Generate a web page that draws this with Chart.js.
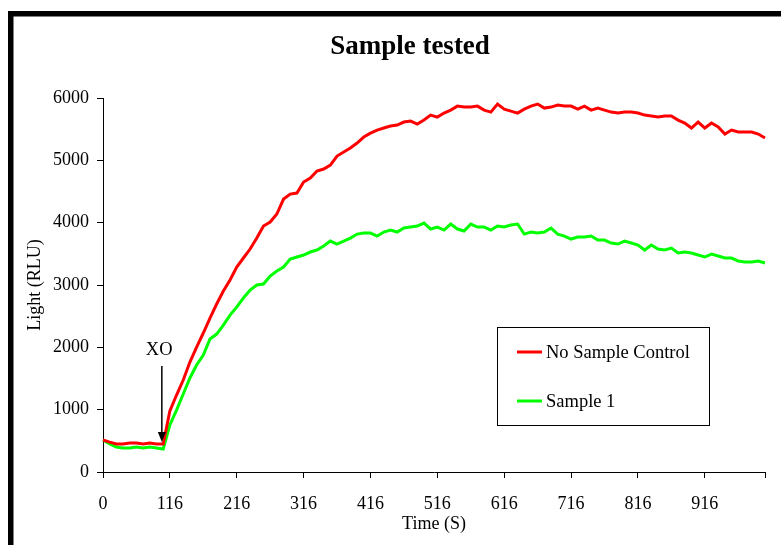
<!DOCTYPE html>
<html>
<head>
<meta charset="utf-8">
<script src="https://cdn.jsdelivr.net/npm/chart.js@4"></script>
<style>
  body { margin: 0; background: #fff; }
  #wrap { width: 781px; height: 545px; position: relative; }
</style>
</head>
<body>
<div id="wrap"><canvas id="chart"></canvas></div>
<script>
const times = [
  0, 26, 36, 46, 56, 66, 76, 86, 96, 106,
  116, 126, 136, 146, 156, 166, 176, 186, 196, 206,
  216, 226, 236, 246, 256, 266, 276, 286, 296, 306,
  316, 326, 336, 346, 356, 366, 376, 386, 396, 406,
  416, 426, 436, 446, 456, 466, 476, 486, 496, 506,
  516, 526, 536, 546, 556, 566, 576, 586, 596, 606,
  616, 626, 636, 646, 656, 666, 676, 686, 696, 706,
  716, 726, 736, 746, 756, 766, 776, 786, 796, 806,
  816, 826, 836, 846, 856, 866, 876, 886, 896, 906,
  916, 926, 936, 946, 956, 966, 976, 986, 996, 1006
];

const noSampleControl = [
  513, 480, 450, 450, 465, 465, 450, 465, 450, 450,
  978, 1235, 1476, 1764, 2005, 2230, 2470, 2695, 2903, 3080,
  3288, 3433, 3577, 3753, 3946, 4010, 4138, 4379, 4459, 4475,
  4652, 4716, 4828, 4860, 4924, 5069, 5133, 5197, 5277, 5373,
  5437, 5486, 5518, 5550, 5566, 5614, 5630, 5582, 5646, 5726,
  5694, 5758, 5806, 5870, 5854, 5854, 5870, 5806, 5774, 5903,
  5822, 5790, 5758, 5822, 5870, 5903, 5838, 5854, 5886, 5870,
  5870, 5822, 5870, 5806, 5838, 5806, 5774, 5758, 5774, 5774,
  5758, 5726, 5710, 5694, 5710, 5710, 5646, 5598, 5518, 5614,
  5518, 5598, 5534, 5422, 5486, 5454, 5454, 5454, 5422, 5357
];

const sample1 = [
  513, 450, 400, 385, 385, 400, 385, 400, 385, 369,
  754, 994, 1251, 1508, 1716, 1877, 2133, 2213, 2358, 2518,
  2647, 2791, 2919, 3000, 3016, 3144, 3224, 3288, 3417, 3449,
  3481, 3529, 3561, 3625, 3705, 3657, 3705, 3753, 3817, 3833,
  3833, 3785, 3850, 3882, 3850, 3914, 3930, 3946, 3994, 3898,
  3930, 3882, 3978, 3898, 3866, 3978, 3930, 3930, 3882, 3946,
  3930, 3962, 3978, 3817, 3850, 3833, 3850, 3914, 3817, 3785,
  3737, 3769, 3769, 3785, 3721, 3721, 3673, 3657, 3705, 3673,
  3641, 3561, 3641, 3577, 3561, 3593, 3513, 3529, 3513, 3481,
  3449, 3497, 3465, 3433, 3433, 3385, 3369, 3369, 3385, 3352
];

const seriesNames = ['No Sample Control', 'Sample 1'];
const yTicks = [0, 1000, 2000, 3000, 4000, 5000, 6000];

const FONT = '"Liberation Serif", "Times New Roman", serif';

// frame, title, legend box and the XO marker
const decor = {
  id: 'decor',
  beforeDraw(chart) {
    const ctx = chart.ctx;
    ctx.save();
    ctx.fillStyle = '#fff';
    ctx.fillRect(0, 0, chart.width, chart.height);
    ctx.restore();
  },
  afterDraw(chart) {
    const ctx = chart.ctx;
    const x = chart.scales.x, y = chart.scales.y;
    ctx.save();

    ctx.fillStyle = '#000';
    ctx.fillRect(8, 11, 5.5, chart.height - 11);
    ctx.fillRect(8, 11, chart.width - 8, 5.5);

    ctx.font = 'bold 27px ' + FONT;
    ctx.textAlign = 'center';
    ctx.textBaseline = 'middle';
    ctx.fillText('Sample tested', 410, 47);

    // XO arrow
    const ax = x.getPixelForValue(8.8);
    const top = y.getPixelForValue(1700);
    const tip = y.getPixelForValue(480);
    ctx.strokeStyle = '#000';
    ctx.lineWidth = 1.5;
    ctx.beginPath();
    ctx.moveTo(ax, top);
    ctx.lineTo(ax, tip - 8);
    ctx.stroke();
    ctx.beginPath();
    ctx.moveTo(ax - 4, tip - 10);
    ctx.lineTo(ax + 4, tip - 10);
    ctx.lineTo(ax, tip);
    ctx.closePath();
    ctx.fill();
    ctx.font = '18.5px ' + FONT;
    ctx.fillText('XO', x.getPixelForValue(8.4), y.getPixelForValue(1960));

    // legend
    ctx.lineWidth = 1;
    ctx.strokeRect(497.5, 327.5, 212, 98);
    const rows = [352, 401];
    chart.data.datasets.forEach((ds, i) => {
      ctx.strokeStyle = ds.borderColor;
      ctx.lineWidth = 3;
      ctx.beginPath();
      ctx.moveTo(517, rows[i]);
      ctx.lineTo(542, rows[i]);
      ctx.stroke();
      ctx.fillStyle = '#000';
      ctx.textAlign = 'left';
      ctx.fillText(ds.label, 546, rows[i] + 1);
    });
    ctx.restore();
  }
};

new Chart(document.getElementById('chart'), {
  type: 'line',
  data: {
    labels: times,
    datasets: [
      { label: seriesNames[0], data: noSampleControl, borderColor: '#ff0000', borderWidth: 3, pointRadius: 0, tension: 0 },
      { label: seriesNames[1], data: sample1, borderColor: '#00ff00', borderWidth: 3, pointRadius: 0, tension: 0 }
    ]
  },
  options: {
    responsive: true,
    maintainAspectRatio: false,
    animation: false,
    layout: { padding: { left: 0, top: 98, right: 16, bottom: 0 } },
    plugins: {
      legend: { display: false },
      title: { display: false },
      tooltip: { enabled: false }
    },
    scales: {
      x: {
        type: 'category',
        offset: false,
        afterFit: s => { s.height = 73; },
        grid: { drawOnChartArea: false, tickLength: 6, color: '#000' },
        border: { color: '#000', width: 1 },
        ticks: {
          autoSkip: false,
          maxRotation: 0,
          padding: 15,
          color: '#000',
          font: { family: FONT, size: 18 },
          callback(value, index) {
            if (index === times.length - 1) return '';
            return index % 10 === 0 ? this.getLabelForValue(value) : null;
          }
        },
        title: {
          display: true,
          text: 'Time (S)',
          color: '#000',
          font: { family: FONT, size: 18 },
          padding: { top: 0, bottom: 10 }
        }
      },
      y: {
        min: 0,
        max: 6000,
        afterFit: s => { s.width = 103; },
        afterBuildTicks: s => { s.ticks = yTicks.map(v => ({ value: v })); },
        grid: { drawOnChartArea: false, tickLength: 6, color: '#000' },
        border: { color: '#000', width: 1 },
        ticks: {
          padding: 8,
          color: '#000',
          font: { family: FONT, size: 18 },
          callback: v => String(v)
        },
        title: {
          display: true,
          text: 'Light (RLU)',
          color: '#000',
          font: { family: FONT, size: 18 },
          padding: { top: 24, bottom: 0 }
        }
      }
    }
  },
  plugins: [decor]
});
</script>
</body>
</html>
